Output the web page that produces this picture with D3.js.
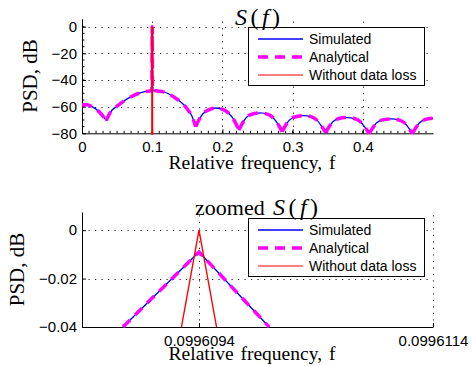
<!DOCTYPE html>
<html>
<head>
<meta charset="utf-8">
<script src="https://cdn.jsdelivr.net/npm/d3@7"></script>
<style>
  body { margin: 0; background: #fff; }
  svg { display: block; }
</style>
</head>
<body>
<svg id="chart" width="472" height="366"></svg>
<script>
// ---- full band S(f) ----
const topF = [
  0, 0.006, 0.012, 0.019, 0.025, 0.030, 0.0347,
  0.038, 0.043, 0.049, 0.056, 0.065, 0.0753, 0.0895, 0.0995, 0.1, 0.1005,
  0.108, 0.118, 0.128, 0.137, 0.145, 0.151, 0.156, 0.1619,
  0.1665, 0.172, 0.1795, 0.1905, 0.2015, 0.209, 0.2165, 0.2235,
  0.228, 0.2335, 0.241, 0.254, 0.265, 0.2725, 0.279, 0.285,
  0.2895, 0.295, 0.303, 0.315, 0.327, 0.335, 0.341, 0.347,
  0.3515, 0.357, 0.365, 0.377, 0.389, 0.397, 0.403, 0.409,
  0.4135, 0.419, 0.427, 0.440, 0.452, 0.460, 0.466, 0.4705,
  0.475, 0.4805, 0.4885, 0.5
];
const topSimDb = [
  -58.7, -58.6, -59.4, -61.5, -64.2, -67.2, -70.5,
  -66.5, -62.5, -60.0, -57.2, -54.0, -51.2, -48.7, -48.0, 0, -48.0,
  -48.2, -49.2, -51.8, -55.0, -58.6, -62.5, -66.5, -75.0,
  -70.0, -65.5, -62.6, -61.0, -62.3, -65.0, -70.0, -77.5,
  -73.0, -68.5, -65.9, -64.7, -65.8, -68.5, -73.0, -78.7,
  -74.5, -70.3, -67.8, -66.8, -67.7, -70.3, -74.5, -79.5,
  -75.5, -71.5, -69.1, -68.2, -69.1, -71.5, -75.5, -80.2,
  -76.5, -72.5, -70.1, -69.2, -70.1, -72.5, -76.5, -80.2,
  -76.3, -72.3, -69.8, -68.7
];
// analytical curve lies on top of the simulated one
const topAnaDb = topSimDb;
const topRedF = [0.0999, 0.1, 0.1001];
const topRedDb = [-200, 0, -200];
const topXTicks = [0, 0.1, 0.2, 0.3, 0.4];
const topYTicks = [0, -20, -40, -60, -80];

// ---- zoomed S(f) ----
const zoomF = [0.09960875, 0.0996094, 0.0996100];
const zoomSimDb = [-0.04, -0.009, -0.04];
const zoomAnaDb = zoomSimDb;
const zoomRedF = [0.09960925, 0.0996094, 0.09960955];
const zoomRedDb = [-0.04, 0, -0.04];
const zoomXTicks = [0.0996094, 0.0996114];
const zoomYTicks = [0, -0.02, -0.04];

const legendLabels = ["Simulated", "Analytical", "Without data loss"];

const svg = d3.select("#chart");
const sans = "'Liberation Sans', Arial, Helvetica, sans-serif";
const serif = "'Liberation Serif', 'Times New Roman', serif";
const minus = s => s.replace("-", "\u2212");

function splitAtNulls(xs, ys) {
  const segs = [];
  let cur = [];
  xs.forEach((x, i) => {
    cur.push([x, ys[i]]);
    if (i > 0 && i < xs.length - 1 && ys[i] < ys[i - 1] && ys[i] < ys[i + 1]) {
      segs.push(cur);
      cur = [[x, ys[i]]];
    }
  });
  segs.push(cur);
  return segs;
}

function drawPanel(p) {
  const x = d3.scaleLinear().domain(p.xDomain).range([82, 433]);
  const y = d3.scaleLinear().domain(p.yDomain).range([p.bottom, p.top]);
  const g = svg.append("g");

  const clipId = "clip" + p.id;
  svg.append("clipPath").attr("id", clipId)
    .append("rect")
    .attr("x", 81).attr("y", p.top - 1)
    .attr("width", 354).attr("height", p.bottom - p.top + 2.5);

  // grid
  const grid = g.append("g")
    .attr("stroke", "#222").attr("stroke-width", 1)
    .attr("stroke-dasharray", "1.2,5.3");
  grid.selectAll(".gx").data(p.gridX).join("line")
    .attr("x1", d => Math.round(x(d)) + 0.5).attr("x2", d => Math.round(x(d)) + 0.5)
    .attr("y1", p.bottom).attr("y2", p.top);
  grid.selectAll(".gy").data(p.gridY).join("line")
    .attr("y1", d => Math.round(y(d)) + 0.5).attr("y2", d => Math.round(y(d)) + 0.5)
    .attr("x1", 82).attr("x2", 433);

  // minor ticks
  if (p.minorX) {
    g.append("g").selectAll("line").data(p.minorX).join("line")
      .attr("x1", d => x(d)).attr("x2", d => x(d))
      .attr("y1", p.bottom).attr("y2", p.bottom - 2.5)
      .attr("stroke", "#000");
  }
  if (p.minorY) {
    g.append("g").selectAll("line").data(p.minorY).join("line")
      .attr("y1", d => y(d)).attr("y2", d => y(d))
      .attr("x1", 82).attr("x2", 84.5)
      .attr("stroke", "#000");
  }

  // axes
  const xAxis = g.append("g")
    .attr("transform", `translate(0,${p.bottom})`)
    .call(d3.axisBottom(x).tickValues(p.xTicks).tickFormat(p.xFmt)
      .tickSizeInner(-4).tickSizeOuter(0).tickPadding(8));
  const yAxis = g.append("g")
    .attr("transform", "translate(82,0)")
    .call(d3.axisLeft(y).tickValues(p.yTicks).tickFormat(p.yFmt)
      .tickSizeInner(-4).tickSizeOuter(0).tickPadding(5));
  [xAxis, yAxis].forEach(a => {
    a.selectAll("text").attr("font-family", sans).attr("font-size", 15).attr("fill", "#000");
    a.select(".domain").attr("stroke", "#000");
    a.selectAll(".tick line").attr("stroke", "#000");
  });

  // curves
  const line = d3.line().x(d => x(d[0])).y(d => y(d[1])).curve(p.curve);
  const pathOf = (xs, ys) => splitAtNulls(xs, ys).map(s => line(s)).join("");
  const plot = g.append("g").attr("clip-path", `url(#${clipId})`).attr("fill", "none");
  plot.append("path").attr("d", pathOf(p.f, p.sim))
    .attr("stroke", "#0000ff").attr("stroke-width", 1.3);
  plot.append("path").attr("d", pathOf(p.f, p.ana))
    .attr("stroke", "#ff00ff").attr("stroke-width", 3.5)
    .attr("stroke-dasharray", "10,7");
  plot.append("path")
    .attr("d", d3.line().x(d => x(d[0])).y(d => y(d[1]))(p.redF.map((f, i) => [f, p.redDb[i]])))
    .attr("stroke", "#ff0000").attr("stroke-width", p.redW);

  // legend
  const lg = g.append("g");
  lg.append("rect").attr("x", 248.5).attr("y", p.legTop + 0.5)
    .attr("width", 176).attr("height", 58)
    .attr("fill", "#fff").attr("stroke", "#000").attr("stroke-width", 1);
  const styles = [
    { c: "#0000ff", w: 1.5, dash: null },
    { c: "#ff00ff", w: 3.5, dash: "10,7" },
    { c: "#ff0000", w: 1.2, dash: null }
  ];
  legendLabels.forEach((lab, i) => {
    const yy = p.legTop + 12 + i * 18;
    lg.append("line").attr("x1", 258).attr("x2", 303).attr("y1", yy).attr("y2", yy)
      .attr("stroke", styles[i].c).attr("stroke-width", styles[i].w)
      .attr("stroke-dasharray", styles[i].dash);
    lg.append("text").attr("x", 309).attr("y", yy + 5)
      .attr("font-family", sans).attr("font-size", 14).text(lab);
  });

  // labels
  g.append("text").attr("x", 252).attr("y", p.xLabelY)
    .attr("text-anchor", "middle").attr("font-family", serif)
    .attr("font-size", 19.5).attr("word-spacing", 2)
    .text("Relative frequency, f");
  g.append("text")
    .attr("transform", `translate(${p.yLabelX},${(p.top + p.bottom) / 2}) rotate(-90)`)
    .attr("text-anchor", "middle").attr("font-family", serif)
    .attr("font-size", 21).text("PSD, dB");
  return g;
}

function mathSf(g, x0, y0, w) {
  const t = g.append("text").attr("x", x0).attr("y", y0)
    .attr("font-family", serif).attr("font-size", 24)
    .attr("textLength", w).attr("lengthAdjust", "spacing");
  t.append("tspan").attr("font-style", "italic").text("S");
  t.append("tspan").text("(");
  t.append("tspan").attr("font-style", "italic").text("f");
  t.append("tspan").text(")");
}

const gTop = drawPanel({
  id: "top", top: 18.7, bottom: 133.3,
  xDomain: [0, 0.5], yDomain: [-80, 6], curve: d3.curveMonotoneX,
  f: topF, sim: topSimDb, ana: topAnaDb, redF: topRedF, redDb: topRedDb, redW: 2,
  xTicks: topXTicks, yTicks: topYTicks,
  xFmt: d => d === 0 ? "0" : d3.format(".1f")(d),
  yFmt: d => minus(String(d)),
  gridX: topXTicks.slice(1), gridY: topYTicks.slice(0, 4),
  minorX: d3.range(0.01, 0.5, 0.01), minorY: d3.range(-75, 5, 5),
  legTop: 27, xLabelY: 169, yLabelX: 36.5
});
mathSf(gTop, 235, 24.5, 45);

const gBot = drawPanel({
  id: "bot", top: 212, bottom: 327,
  xDomain: [0.0996084, 0.0996114], yDomain: [-0.04, 0.0075], curve: d3.curveLinear,
  f: zoomF, sim: zoomSimDb, ana: zoomAnaDb, redF: zoomRedF, redDb: zoomRedDb, redW: 1.4,
  xTicks: zoomXTicks, yTicks: zoomYTicks,
  xFmt: d3.format(".7f"),
  yFmt: d => d === 0 ? "0" : minus(d3.format(".2f")(d)),
  gridX: zoomXTicks, gridY: zoomYTicks.slice(0, 2),
  legTop: 218, xLabelY: 360, yLabelX: 23.5
});
gBot.append("text").attr("x", 195).attr("y", 215)
  .attr("font-family", serif).attr("font-size", 22).text("zoomed");
mathSf(gBot, 273, 215, 45);
</script>
</body>
</html>
